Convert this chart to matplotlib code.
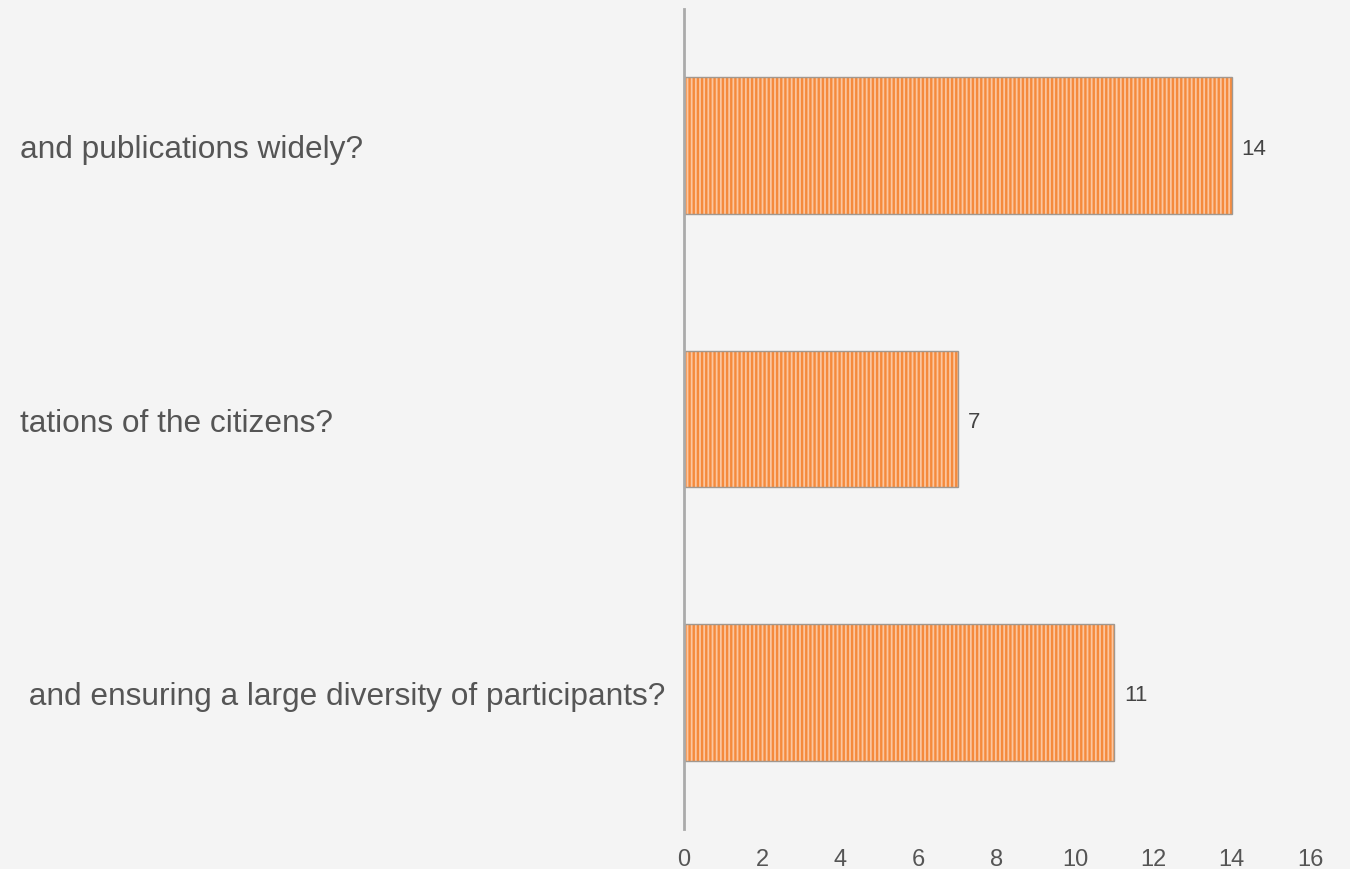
import matplotlib
matplotlib.use('Agg')
import matplotlib.pyplot as plt
from matplotlib.transforms import blended_transform_factory

categories = [
    'and publications widely?',
    'tations of the citizens?',
    ' and ensuring a large diversity of participants?',
]
values = [14, 7, 11]
x_ticks = [0, 2, 4, 6, 8, 10, 12, 14, 16]

plt.rcParams['font.family'] = ['Liberation Sans', 'DejaVu Sans']
plt.rcParams['hatch.linewidth'] = 1.7

bg = '#f4f4f4'
fig = plt.figure(figsize=(13.5, 8.7), dpi=100, facecolor=bg)
ax = fig.add_axes([684 / 1350, 40 / 870, 626 / 1350, 820 / 870])
ax.set_facecolor(bg)

y = list(range(len(categories)))[::-1]

# base fill, stripes on top, then a thin gray outline
ax.barh(y, values, height=0.5, color='#fbc6a0', linewidth=0)
ax.barh(y, values, height=0.5, color='none', edgecolor='#f58a3c',
        hatch='||||', linewidth=0)
ax.barh(y, values, height=0.5, color='none', edgecolor='#a09890', linewidth=1)

for yi, v in zip(y, values):
    ax.text(v + 0.25, yi, str(v), va='center_baseline', ha='left', fontsize=16, color='#444444')

trans = blended_transform_factory(fig.transFigure, ax.transData)
for yi, lab in zip(y, categories):
    ax.text(20 / 1350, yi, lab, transform=trans,
            va='center_baseline', ha='left', fontsize=22.8, color='#555555')

ax.set_xlim(0, 16)
ax.set_ylim(-0.5, 2.5)
ax.set_xticks(x_ticks)
ax.set_xticklabels([str(t) for t in x_ticks], fontsize=17, color='#555555')
ax.tick_params(axis='x', length=0, pad=14)
ax.set_yticks([])

for s in ['top', 'right', 'bottom']:
    ax.spines[s].set_visible(False)
ax.spines['left'].set_color('#aaaaaa')
ax.spines['left'].set_linewidth(2)

fig.savefig('out.png', dpi=100, facecolor=bg)
